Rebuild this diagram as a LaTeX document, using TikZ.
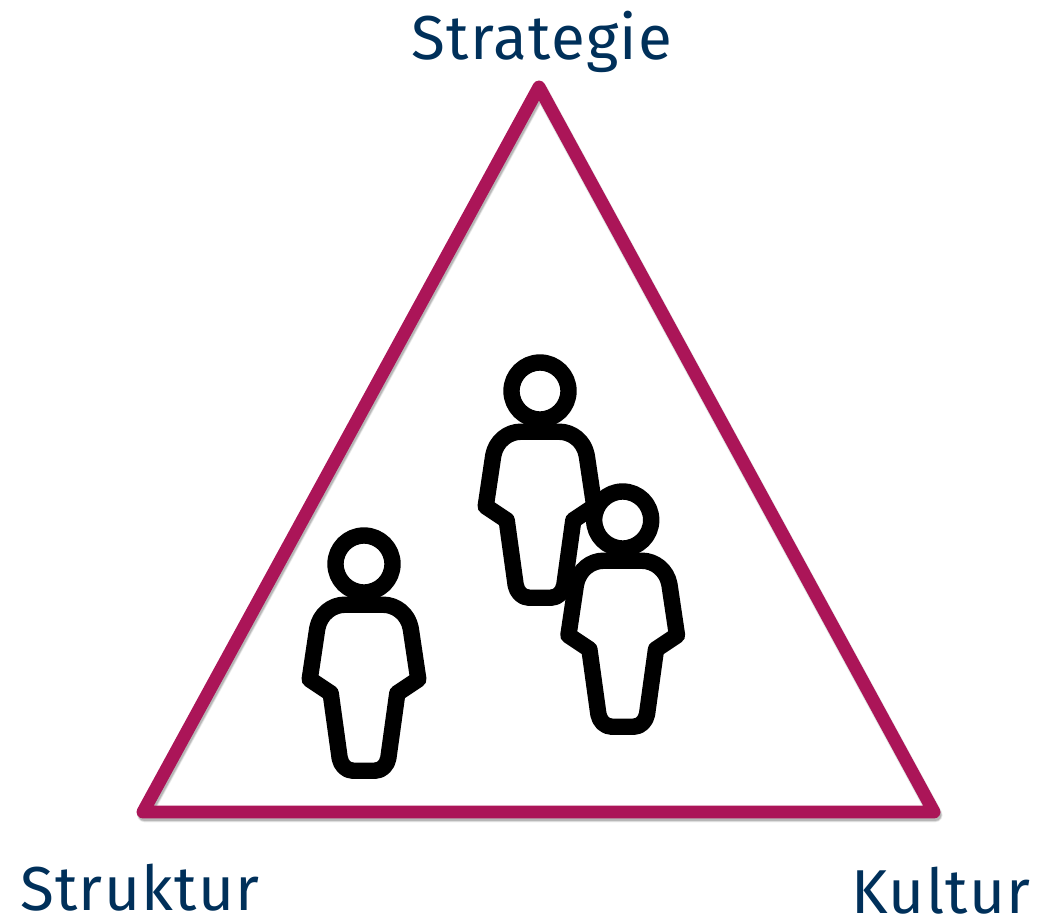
\documentclass[tikz,border=0pt]{standalone}
\usepackage{fontspec}
\setmainfont{Fira Sans}[LetterSpace=2.1]
\definecolor{tribordeaux}{HTML}{AB1558}
\definecolor{labelnavy}{HTML}{00305A}
\tikzset{
  x=0.75pt,y=-0.75pt,
  triline/.style={draw=tribordeaux,line width=9.7pt,line join=round},
  trishadow/.style={draw=black,line join=round},
  iconline/.style={draw=black,line width=12.3pt,line join=round,fill=white},
  cornerlabel/.style={text=labelnavy,font=\fontsize{46.5pt}{50pt}\selectfont,inner sep=0pt,anchor=base},
  pics/person/.style={code={
    \path[iconline] (-11,206.7) -- (11,206.7)
       .. controls (18,206.7) and (23,201) .. (24.3,194.3)
       -- (33.3,129.3) -- (54.3,115.3) -- (46.7,64.3)
       .. controls (44,50) and (32,40.7) .. (19,40.7)
       -- (-19,40.7)
       .. controls (-32,40.7) and (-44,50) .. (-46.7,64.3)
       -- (-54.3,115.3) -- (-33.3,129.3) -- (-24.3,194.3)
       .. controls (-23,201) and (-18,206.7) .. (-11,206.7) -- cycle;
    \path[iconline] (0,0) circle[radius=28.5];
  }}
}
\begin{document}
\begin{tikzpicture}
\useasboundingbox (0,0) rectangle (1038,917);
\coordinate (apex) at (539,87);
\coordinate (left) at (143,812);
\coordinate (right) at (934,812);
\begin{scope}[transform canvas={xshift=1pt,yshift=-2.2pt}]
\foreach \w/\o in {11/0.07,10/0.10,9/0.14}{
  \draw[trishadow,line width=\w pt,opacity=\o] (apex) -- (right) -- (left) -- cycle;
}
\end{scope}
\draw[triline] (apex) -- (right) -- (left) -- cycle;
\pic (p1) at (364,564) {person};
\pic (p2) at (540,391) {person};
\pic (p3) at (622.7,520) {person};
\node[cornerlabel] (strategie) at (542,60) {Strategie};
\node[cornerlabel] (struktur) at (140,910) {Struktur};
\node[cornerlabel] (kultur) at (941,913) {Kultur};
\end{tikzpicture}
\end{document}
